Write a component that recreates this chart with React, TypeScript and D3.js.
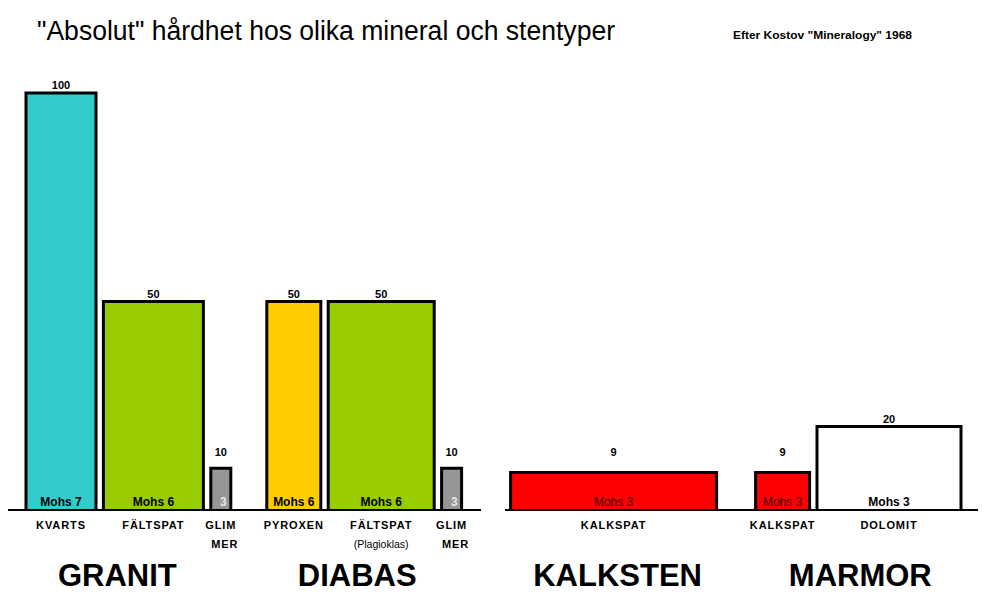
import * as d3 from 'd3';

// Mineraler, bergarter och värden
const minerals = ['KVARTS', 'FÄLTSPAT', 'GLIMMER', 'PYROXEN', 'FÄLTSPAT', 'GLIMMER', 'KALKSPAT', 'KALKSPAT', 'DOLOMIT'];
const rockOf = ['GRANIT', 'GRANIT', 'GRANIT', 'DIABAS', 'DIABAS', 'DIABAS', 'KALKSTEN', 'MARMOR', 'MARMOR'];
const hardness = [100, 50, 10, 50, 50, 10, 9, 9, 20];
const mohs = [7, 6, 3, 6, 6, 3, 3, 3, 3];
// relativ stapelbredd (andel i bergarten)
const share = [35, 50, 10, 27, 53, 10, 103, 27, 72];
const nameLines = [['KVARTS'], ['FÄLTSPAT'], ['GLIM', 'MER'], ['PYROXEN'], ['FÄLTSPAT', '(Plagioklas)'], ['GLIM', 'MER'], ['KALKSPAT'], ['KALKSPAT'], ['DOLOMIT']];
const rocks = ['GRANIT', 'DIABAS', 'KALKSTEN', 'MARMOR'];

const title = '"Absolut" hårdhet hos olika mineral och stentyper';
const source = 'Efter Kostov "Mineralogy" 1968';

const colors: Record<string, string> = {
  KVARTS: '#33CCCC',
  'FÄLTSPAT': '#99CC00',
  GLIMMER: '#969696',
  PYROXEN: '#FFCC00',
  KALKSPAT: '#FF0000',
  DOLOMIT: '#FFFFFF',
};

const width = 982;
const height = 597;
const baseY = 510;
const font = '"Liberation Sans", Arial, sans-serif';

// layout i breddenheter
const groupLead: Record<string, number> = { GRANIT: 9, DIABAS: 18, KALKSTEN: 24.5, MARMOR: 19.5 };
const innerGap = 3.7;
const axisSegments = [[0, 236.5], [248.5, 485]];
// små förskjutningar (px) av bergartsrubrikerna
const rockLabelShift: Record<string, number> = { GRANIT: -11, DIABAS: -7, KALKSTEN: 4, MARMOR: 2 };

const x = d3.scaleLinear().domain([0, 485]).range([8, 978]);
const y = d3.scaleLinear().domain([0, 100]).range([baseY, 93]);

type Bar = { i: number; x0: number; x1: number };
const bars: Bar[] = [];
{
  let cur = 0;
  let prevRock = '';
  minerals.forEach((m, i) => {
    const r = rockOf[i];
    cur += r !== prevRock ? groupLead[r] : innerGap;
    bars.push({ i, x0: cur, x1: cur + share[i] });
    cur += share[i];
    prevRock = r;
  });
}

const App = () => {
  return (
    <svg width={width} height={height} style={{ position: 'absolute', left: 0, top: 0, background: '#fff' }} fontFamily={font}>
      <rect width={width} height={height} fill="#fff" />
      <text x={37} y={40} fontSize={27} textLength={578} lengthAdjust="spacingAndGlyphs">{title}</text>
      <text x={733} y={39} fontSize={11.5} fontWeight="bold" textLength={179} lengthAdjust="spacingAndGlyphs">{source}</text>

      {bars.map((b) => {
        const m = minerals[b.i];
        const bx0 = x(b.x0);
        const bx1 = x(b.x1);
        const top = y(hardness[b.i]);
        const cx = (bx0 + bx1) / 2;
        const w = bx1 - bx0;
        const isRed = m === 'KALKSPAT';
        const narrow = w < 30;
        const mohsText = narrow ? String(mohs[b.i]) : `Mohs ${mohs[b.i]}`;
        return (
          <g key={b.i}>
            <rect x={bx0} y={top} width={w} height={baseY - top} fill={colors[m]} />
            <path d={`M${bx0},${baseY}V${top}H${bx1}V${baseY}`} fill="none" stroke="#000" strokeWidth={3} />
            <text x={cx} y={Math.min(top, y(12)) - 4} textAnchor="middle" fontSize={11} fontWeight="bold">{hardness[b.i]}</text>
            <text
              x={narrow ? bx1 - 4 : cx}
              y={506}
              textAnchor={narrow ? 'end' : 'middle'}
              fontSize={12}
              fontWeight={isRed ? 'normal' : 'bold'}
              fill={m === 'GLIMMER' ? '#E8E8E8' : isRed ? '#3a0000' : '#000'}
            >{mohsText}</text>
            {nameLines[b.i].map((line, k) => (
              <text
                key={k}
                x={cx + (line === 'MER' ? 4 : 0)}
                y={529 + k * 19}
                textAnchor="middle"
                fontSize={line.startsWith('(') ? 10.5 : 11}
                fontWeight={line.startsWith('(') ? 'normal' : 'bold'}
                letterSpacing={line.startsWith('(') ? 0 : 0.9}
              >{line}</text>
            ))}
          </g>
        );
      })}

      {axisSegments.map(([a, b], k) => (
        <line key={k} x1={x(a)} x2={x(b)} y1={baseY} y2={baseY} stroke="#000" strokeWidth={2} />
      ))}

      {rocks.map((r) => {
        const own = bars.filter((b) => rockOf[b.i] === r);
        const cx = (x(own[0].x0) + x(own[own.length - 1].x1)) / 2 + rockLabelShift[r];
        return (
          <text key={r} x={cx} y={586} textAnchor="middle" fontSize={31} fontWeight="bold">{r}</text>
        );
      })}
    </svg>
  );
};

export default App;
